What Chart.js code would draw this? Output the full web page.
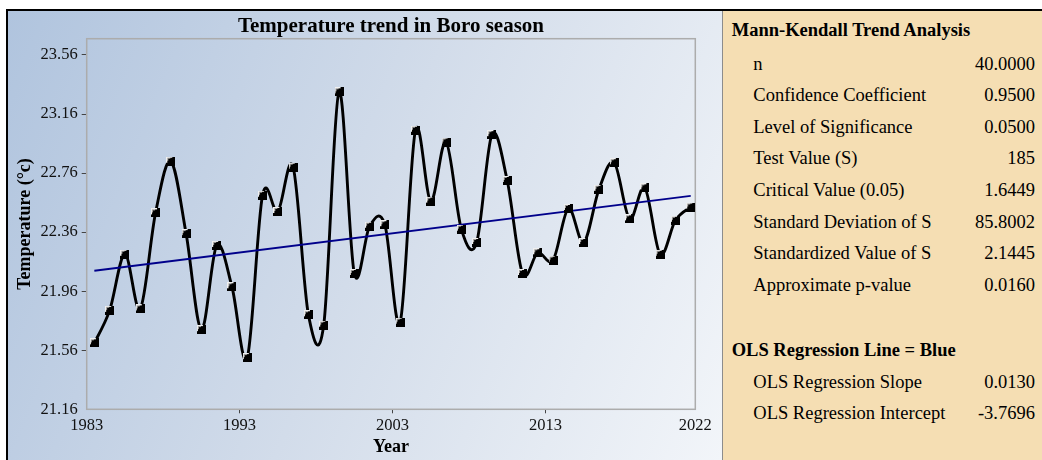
<!DOCTYPE html>
<html>
<head>
<meta charset="utf-8">
<script src="https://cdn.jsdelivr.net/npm/chart.js@4/dist/chart.umd.min.js"></script>
<style>
  html, body { margin: 0; padding: 0; background: #fff; }
  body { width: 1042px; height: 460px; position: relative; overflow: hidden;
         font-family: 'Liberation Serif', 'Times New Roman', serif; }
  #frame { position: absolute; left: 6px; top: 9px; width: 1036px; height: 451px;
           border-top: 2px solid #000; border-left: 2px solid #000; }
  #plotPanel { position: absolute; left: 0; top: 0; width: 714px; height: 449px;
               background: linear-gradient(112deg, #b0c4de 0%, #d2dcea 50%, #f2f5f9 100%); }
  #stats { position: absolute; left: 714px; top: 0; width: 320px; height: 449px;
           background: #f5deb3; border-left: 1px solid #8c8c8c; box-sizing: border-box; }
  .row { position: absolute; left: 0; right: 7px; height: 22px; line-height: 22px;
         font-size: 18.5px; color: #000; white-space: nowrap; }
  .row .lab { position: absolute; left: 30.3px; }
  .row .val { position: absolute; right: 0; }
  .row.head { font-weight: bold; }
  .row.head .lab { left: 8.7px; }
</style>
</head>
<body>
<div id="frame">
  <div id="plotPanel"><canvas id="chart" width="714" height="449"></canvas></div>
  <div id="stats"></div>
</div>
<script>
// Boro season mean temperature by year (°C)
const years = [1983, 1984, 1985, 1986, 1987, 1988, 1989, 1990, 1991, 1992,
               1993, 1994, 1995, 1996, 1997, 1998, 1999, 2000, 2001, 2002,
               2003, 2004, 2005, 2006, 2007, 2008, 2009, 2010, 2011, 2012,
               2013, 2014, 2015, 2016, 2017, 2018, 2019, 2020, 2021, 2022];
const temps = [21.61, 21.83, 22.21, 21.84, 22.49, 22.84, 22.35, 21.70, 22.27, 21.99,
               21.51, 22.61, 22.50, 22.80, 21.80, 21.73, 23.31, 22.08, 22.40, 22.41,
               21.75, 23.05, 22.57, 22.97, 22.38, 22.29, 23.02, 22.71, 22.08, 22.22,
               22.17, 22.52, 22.29, 22.65, 22.83, 22.45, 22.66, 22.21, 22.44, 22.53];

// Axis ticks
const xTickValues = [1983, 1993, 2003, 2013, 2022.8];
const xTickLabels = ['1983', '1993', '2003', '2013', '2022'];
const yTickValues = [21.16, 21.56, 21.96, 22.36, 22.76, 23.16, 23.56];
const yTickLabels = ['21.16', '21.56', '21.96', '22.36', '22.76', '23.16', '23.56'];

// Mann-Kendall / OLS summary
const mkTitle = 'Mann-Kendall Trend Analysis';
const mkLabels = ['n', 'Confidence Coefficient', 'Level of Significance', 'Test Value (S)',
                  'Critical Value (0.05)', 'Standard Deviation of S', 'Standardized Value of S',
                  'Approximate p-value'];
const mkValues = ['40.0000', '0.9500', '0.0500', '185', '1.6449', '85.8002', '2.1445', '0.0160'];
const olsTitle = 'OLS Regression Line = Blue';
const olsLabels = ['OLS Regression Slope', 'OLS Regression Intercept'];
const olsValues = ['0.0130', '-3.7696'];

// ---- summary table ----
const stats = document.getElementById('stats');
function addRow(label, value, center, head) {
  const r = document.createElement('div');
  r.className = 'row' + (head ? ' head' : '');
  r.style.top = (center - 22) + 'px';
  const l = document.createElement('span'); l.className = 'lab'; l.textContent = label; r.appendChild(l);
  if (value !== null) { const v = document.createElement('span'); v.className = 'val'; v.textContent = value; r.appendChild(v); }
  stats.appendChild(r);
}
addRow(mkTitle, null, 29.8, true);
mkLabels.forEach((lab, i) => addRow(lab, mkValues[i], 63.5 + 31.65 * i, false));
addRow(olsTitle, null, 349.8, true);
olsLabels.forEach((lab, i) => addRow(lab, olsValues[i], 381.8 + 31.6 * i, false));

// ---- chart ----
const serif = "'Liberation Serif', 'Times New Roman', serif";
const xs = years.map(y => y + 0.5);            // each year plotted mid-interval
const seriesPts = xs.map((x, i) => ({ x: x, y: temps[i] }));

// OLS line: stated slope through the centroid of the series
const slope = parseFloat(olsValues[0]);
const mx = xs.reduce((a, b) => a + b, 0) / xs.length;
const my = temps.reduce((a, b) => a + b, 0) / temps.length;
const olsPts = [xs[0], xs[xs.length - 1]].map(x => ({ x: x, y: my + slope * (x - mx) }));

// bevelled square marker
const marker = document.createElement('canvas');
marker.width = 9; marker.height = 9;
(function () {
  const m = marker.getContext('2d');
  m.fillStyle = '#000'; m.fillRect(0, 0, 9, 9);
  m.fillStyle = '#f0f0f0';
  m.fillRect(0, 0, 6, 1);
  m.fillRect(0, 0, 1, 6);
  m.fillStyle = '#9a9a9a';
  m.fillRect(1, 1, 3, 1);
  m.fillRect(1, 1, 1, 3);
})();

// uniform Catmull-Rom control points for the smoothed curve
const catmullRom = {
  id: 'catmullRom',
  beforeDatasetDraw(chart, args) {
    const ds = chart.data.datasets[args.index];
    if (!ds.catmullRom) return;
    const line = args.meta.dataset;
    line.updateControlPoints(chart.chartArea, args.meta.iScale.axis);
    const pts = args.meta.data;
    const n = pts.length;
    for (let i = 0; i < n; i++) {
      const p = pts[i], a = pts[Math.max(i - 1, 0)], b = pts[Math.min(i + 1, n - 1)];
      const dx = (b.x - a.x) / 6, dy = (b.y - a.y) / 6;
      p.cp1x = p.x - dx; p.cp1y = p.y - dy;
      p.cp2x = p.x + dx; p.cp2y = p.y + dy;
    }
  }
};

// grey frame round the plotting area
const plotFrame = {
  id: 'plotFrame',
  beforeDatasetsDraw(chart) {
    const { ctx, chartArea: a } = chart;
    ctx.save();
    ctx.strokeStyle = '#acacac';
    ctx.lineWidth = 1.5;
    ctx.strokeRect(a.left, a.top, a.right - a.left, a.bottom - a.top);
    ctx.restore();
  }
};

new Chart(document.getElementById('chart'), {
  type: 'line',
  data: {
    datasets: [
      { label: 'Temperature', data: seriesPts, catmullRom: true,
        borderColor: '#000', borderWidth: 2.9, tension: 0.4, pointRadius: 0, order: 2 },
      { label: 'OLS', data: olsPts, borderColor: '#00008b', borderWidth: 1.8,
        tension: 0, pointRadius: 0, order: 1 },
      { label: 'Temperature points', data: seriesPts, showLine: false,
        pointStyle: marker, pointRadius: 4.5, order: 0 }
    ]
  },
  options: {
    responsive: false,
    animation: false,
    devicePixelRatio: 1,
    layout: { padding: { left: 0, right: 26.7, top: 0, bottom: 0 } },
    plugins: {
      legend: { display: false },
      tooltip: { enabled: false },
      title: {
        display: true, fullSize: false, text: 'Temperature trend in Boro season', color: '#000',
        font: { family: serif, size: 21, weight: 'bold', lineHeight: 1.0 },
        padding: { top: 5.5, bottom: 1.2 }
      }
    },
    scales: {
      x: {
        type: 'linear', min: 1983, max: 2022.8,
        afterBuildTicks: s => { s.ticks = xTickValues.map(v => ({ value: v })); },
        afterFit: s => { s.height = 50.7; },
        ticks: { autoSkip: false, maxRotation: 0, padding: 2.5, color: '#111',
                 font: { family: serif, size: 16.5 },
                 callback: (v, i) => xTickLabels[i] },
        grid: { drawOnChartArea: false, drawTicks: true, tickLength: 4, tickWidth: 1,
                tickColor: c => (c.index === 0 || c.index === xTickValues.length - 1) ? 'rgba(0,0,0,0)' : '#444' },
        border: { display: false },
        title: { display: true, text: 'Year', color: '#000',
                 font: { family: serif, size: 18, weight: 'bold', lineHeight: 1.2 },
                 padding: { top: 0, bottom: 2.2 } }
      },
      y: {
        type: 'linear', min: 21.16, max: 23.67,
        afterBuildTicks: s => { s.ticks = yTickValues.map(v => ({ value: v })); },
        afterFit: s => { s.width = 78.7; },
        ticks: { autoSkip: false, padding: 4, color: '#111',
                 font: { family: serif, size: 16.5 },
                 callback: (v, i) => yTickLabels[i] },
        grid: { drawOnChartArea: false, drawTicks: true, tickLength: 5, tickWidth: 1,
                tickColor: c => c.index === 0 ? 'rgba(0,0,0,0)' : '#444' },
        border: { display: false },
        title: { display: true, text: 'Temperature (°c)', color: '#000',
                 font: { family: serif, size: 18, weight: 'bold', lineHeight: 1.2 },
                 padding: { top: 6.8, bottom: 0 } }
      }
    }
  },
  plugins: [catmullRom, plotFrame]
});
</script>
</body>
</html>
